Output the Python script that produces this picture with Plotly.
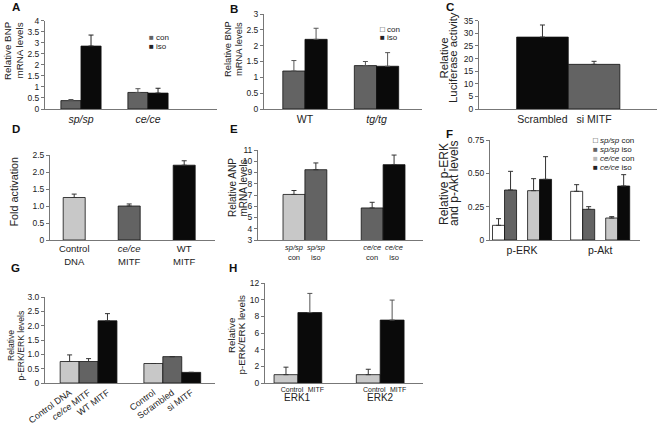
import plotly.graph_objects as go

W, H = 659, 424
def px(x): return x / W
def py(y): return 1 - y / H

# ---------------- data ----------------
A_groups = ["<i>sp/sp</i>", "<i>ce/ce</i>"]
A_con = [0.38, 0.75]; A_con_err = [0.05, 0.17]
A_iso = [2.85, 0.72]; A_iso_err = [0.50, 0.22]

B_groups = ["WT", "<i>tg/tg</i>"]
B_con = [1.20, 1.37]; B_con_err = [0.33, 0.13]
B_iso = [2.20, 1.35]; B_iso_err = [0.35, 0.43]

C_cats = ["Scrambled", "si MITF"]
C_vals = [28.5, 17.7]; C_err = [4.8, 1.2]

D_cats = ["Control<br>DNA", "<i>ce/ce</i><br>MITF", "WT<br>MITF"]
D_vals = [1.25, 1.00, 2.20]; D_err = [0.10, 0.06, 0.13]

E_con_labels = ["<i>sp/sp</i><br>con", "<i>ce/ce</i><br>con"]
E_iso_labels = ["<i>sp/sp</i><br>iso", "<i>ce/ce</i><br>iso"]
E_con = [7.05, 5.85]; E_con_err = [0.35, 0.50]
E_iso = [9.25, 9.70]; E_iso_err = [0.60, 0.85]

F_groups = ["p-ERK", "p-Akt"]
F_series = ["<i>sp/sp</i> con", "<i>sp/sp</i> iso", "<i>ce/ce</i> con", "<i>ce/ce</i> iso"]
F_vals = [[0.11, 0.365], [0.375, 0.23], [0.37, 0.165], [0.455, 0.405]]
F_err = [[0.05, 0.05], [0.14, 0.02], [0.09, 0.01], [0.17, 0.085]]

G_labels = [["Control DNA", "Control"], ["<i>ce/ce</i> MITF", "Scrambled"], ["WT MITF", "si MITF"]]
G_vals = [[0.75, 0.68], [0.75, 0.92], [2.17, 0.37]]
G_err = [[0.23, None], [0.10, None], [0.25, None]]

H_groups = ["ERK1", "ERK2"]
H_bar_labels = ["Control", "MITF"]
H_con = [1.0, 1.0]; H_con_err = [0.90, 0.65]
H_mitf = [8.45, 7.55]; H_mitf_err = [2.30, 2.40]

# ---------------- styling ----------------
FONT = "Liberation Sans, Arial, sans-serif"
LIGHT = "#c8c8c8"; MID = "#636363"; DARK = "#0a0a0a"; WHITE = "#ffffff"
AX = "#777777"; TXT = "#222222"

fig = go.Figure()

def add_bar(n, groups, y, err, color, offset, width, errcolor="#222222"):
    # bar centres derived from group index + offset within the group
    x = [g + offset + width / 2 for g in groups]
    vis = any(e is not None for e in err)
    fig.add_trace(go.Bar(
        x=x, y=y, width=width,
        marker=dict(color=color, line=dict(color="#111111", width=0.8)),
        error_y=dict(type="data", symmetric=False,
                     array=[e if e is not None else 0 for e in err],
                     arrayminus=[0] * len(err), color=errcolor, thickness=1, width=2.5, visible=vis),
        xaxis="x" if n == 1 else f"x{n}", yaxis="y" if n == 1 else f"y{n}",
        showlegend=False, hoverinfo="skip"))
    return x

# A
gA = list(range(len(A_groups)))
add_bar(1, gA, A_con, A_con_err, MID, -0.3, 0.3, "#555555")
add_bar(1, gA, A_iso, A_iso_err, DARK, 0.0, 0.3)
# B
gB = list(range(len(B_groups)))
add_bar(2, gB, B_con, B_con_err, MID, -0.31, 0.31, "#555555")
add_bar(2, gB, B_iso, B_iso_err, DARK, 0.0, 0.31, "#555555")
# C
gC = list(range(len(C_cats)))
add_bar(3, gC, C_vals, C_err, [DARK, MID], -0.5, 1.0, "#333333")
# D
gD = list(range(len(D_cats)))
add_bar(4, gD, D_vals, D_err, [LIGHT, MID, DARK], -0.2, 0.4, "#333333")
# E
gE = list(range(len(E_con)))
wE = 0.28
xe1 = add_bar(5, gE, E_con, E_con_err, [LIGHT, MID], -wE, wE, "#333333")
xe2 = add_bar(5, gE, E_iso, E_iso_err, [MID, DARK], 0.0, wE, "#333333")
E_tickvals = xe1 + xe2
E_ticktext = E_con_labels + E_iso_labels
# F
gF = list(range(len(F_groups)))
wF = 0.154
F_offsets = [-0.378, -0.224, 0.071, 0.224]
F_colors = [WHITE, MID, LIGHT, DARK]
for vals, err, off, col in zip(F_vals, F_err, F_offsets, F_colors):
    add_bar(6, gF, vals, err, col, off, wF, "#333333")
# G
gG = list(range(2))
wG = 0.226
G_offsets = [-1.5 * wG, -0.5 * wG, 0.5 * wG]
G_colors = [LIGHT, MID, DARK]
G_tickvals, G_ticktext = [], []
for vals, err, off, col, labs in zip(G_vals, G_err, G_offsets, G_colors, G_labels):
    xs = add_bar(7, gG, vals, err, col, off, wG, "#333333")
    G_tickvals += xs
    G_ticktext += labs
# H
gH = list(range(len(H_groups)))
wH = 0.29
xh1 = add_bar(8, gH, H_con, H_con_err, LIGHT, -wH, wH, "#333333")
xh2 = add_bar(8, gH, H_mitf, H_mitf_err, DARK, 0.0, wH, "#555555")
H_tickvals = xh1 + xh2
H_ticktext = [H_bar_labels[0]] * len(gH) + [H_bar_labels[1]] * len(gH)

# ---------------- axes ----------------
panels = {
    1: dict(xd=(45, 217), yd=(20.7, 109), xr=(-0.537, 2.03), yr=(0, 4),
            yt=[0, 0.5, 1, 1.5, 2, 2.5, 3, 3.5, 4], ytt=None,
            xt=gA, xtt=A_groups, xfs=10.5, xangle=0, shift=0),
    2: dict(xd=(264, 422), yd=(14, 109), xr=(-0.573, 1.636), yr=(0, 3),
            yt=[0, 0.5, 1, 1.5, 2, 2.5, 3], ytt=None,
            xt=gB, xtt=B_groups, xfs=10.5, xangle=0, shift=0),
    3: dict(xd=(479, 657), yd=(20.7, 109), xr=(-1.23, 2.22), yr=(0, 35),
            yt=[0, 5, 10, 15, 20, 25, 30, 35], ytt=None,
            xt=gC, xtt=C_cats, xfs=10.5, xangle=0, shift=0),
    4: dict(xd=(50, 215), yd=(155, 240), xr=(-0.44, 2.56), yr=(0, 2.5),
            yt=[0, 0.5, 1, 1.5, 2, 2.5], ytt=["0", "0.5", "1.0", "1.5", "2.0", "2.5"],
            xt=gD, xtt=D_cats, xfs=9.5, xangle=0, shift=0),
    5: dict(xd=(258, 423), yd=(150, 240), xr=(-0.6, 1.51), yr=(3, 11),
            yt=list(range(3, 12)), ytt=None,
            xt=E_tickvals, xtt=E_ticktext, xfs=7.5, xangle=0, shift=0),
    6: dict(xd=(490, 640), yd=(140, 240), xr=(-0.41, 1.51), yr=(0, 0.75),
            yt=[0, 0.25, 0.5, 0.75], ytt=["0", "0.25", "0.50", "0.75"],
            xt=gF, xtt=F_groups, xfs=10.5, xangle=0, shift=0),
    7: dict(xd=(45, 215), yd=(297, 383), xr=(-0.52, 1.51), yr=(0, 3),
            yt=[0, 0.5, 1, 1.5, 2, 2.5, 3], ytt=["0", "0.5", "1.0", "1.5", "2.0", "2.5", "3.0"],
            xt=G_tickvals, xtt=G_ticktext, xfs=9, xangle=-36, shift=0),
    8: dict(xd=(265, 423), yd=(283, 383), xr=(-0.40, 1.52), yr=(0, 12),
            yt=list(range(0, 13, 2)), ytt=None,
            xt=H_tickvals, xtt=H_ticktext, xfs=7, xangle=0, shift=6),
}

layout_axes = {}
for n, p in panels.items():
    xs = "xaxis" if n == 1 else f"xaxis{n}"
    ys = "yaxis" if n == 1 else f"yaxis{n}"
    xa = "x" if n == 1 else f"x{n}"
    ya = "y" if n == 1 else f"y{n}"
    layout_axes[xs] = dict(
        domain=[px(p["xd"][0]), px(p["xd"][1])], range=list(p["xr"]), anchor=ya,
        showgrid=False, zeroline=False, showline=True, linecolor=AX, linewidth=1,
        ticks="", tickmode="array", tickvals=p["xt"], ticktext=p["xtt"],
        tickangle=p["xangle"], tickfont=dict(size=p["xfs"], color=TXT, family=FONT),
        ticklabelshift=p["shift"], automargin=False, fixedrange=True)
    yd = dict(
        domain=[py(p["yd"][1]), py(p["yd"][0])], range=list(p["yr"]), anchor=xa,
        showgrid=False, zeroline=False, showline=True, linecolor=AX, linewidth=1,
        ticks="outside", ticklen=3, tickcolor=AX, tickmode="array", tickvals=p["yt"],
        tickfont=dict(size=8.5, color=TXT, family=FONT), automargin=False, fixedrange=True)
    if p["ytt"] is not None:
        yd["ticktext"] = p["ytt"]
    layout_axes[ys] = yd

ann = []
def text(x, y, s, size, bold=False, angle=0, xanchor="center", yanchor="middle",
         color=TXT, family=FONT):
    ann.append(dict(x=px(x), y=py(y), xref="paper", yref="paper", text=f"<b>{s}</b>" if bold else s,
                    showarrow=False, textangle=angle, xanchor=xanchor, yanchor=yanchor,
                    font=dict(size=size, family=family, color=color)))

# panel letters
for lab, x, y in [("A", 16, 7), ("B", 233.5, 9), ("C", 450, 7), ("D", 15.5, 129),
                  ("E", 234, 129), ("F", 449.5, 134), ("G", 15, 268), ("H", 233, 268)]:
    text(x, y, lab, 11.5, bold=True, color="#111111")

# y-axis titles (one annotation per line)
for lines, xs, yc, fs in [
    (["Relative BNP", "mRNA levels"], [8, 19.5], 51, 9.8),
    (["Relative BNP", "mRNA levels"], [227, 238], 49, 9.4),
    (["Relative", "Luciferase activity"], [443.5, 453], 58, 11.4),
    (["Fold activation"], [13.5], 192, 10.8),
    (["Relative ANP", "mRNA levels"], [232, 242.5], 188, 10),
    (["Relative p-ERK", "and p-Akt levels"], [444, 454], 184, 12),
    (["Relative", "p-ERK/ERK levels"], [11, 20.5], 346, 8.6),
    (["Relative", "p-ERK/ERK levels"], [231, 240.5], 335, 9.8),
]:
    for s, x in zip(lines, xs):
        text(x, yc, s, fs, angle=-90)

# H group labels
for g, lab in zip(gH, H_groups):
    ann.append(dict(x=g, y=py(405), xref="x8", yref="paper", text=lab, showarrow=False,
                    font=dict(size=10, family=FONT, color=TXT)))

# legends as text keys
LEG = 8
text(146.5, 37, "<span style='color:#636363'>■</span> con", LEG, xanchor="left")
text(146.5, 46, "■ iso", LEG, xanchor="left")
text(378, 29, "□ con", LEG, xanchor="left")
text(378, 37, "■ iso", LEG, xanchor="left")
for i, (s, sym) in enumerate(zip(F_series, ["□", "<span style='color:#636363'>■</span>",
                                             "<span style='color:#bbbbbb'>■</span>", "■"])):
    text(591, 141 + i * 8.8, f"{sym} {s}", LEG, xanchor="left")

fig.update_layout(
    width=W, height=H, margin=dict(l=0, r=0, t=0, b=0, autoexpand=False),
    paper_bgcolor="white", plot_bgcolor="white", barmode="overlay",
    font=dict(family=FONT, color=TXT), showlegend=False,
    annotations=ann, **layout_axes)

fig.write_html("out.html", config={"displayModeBar": False},
               post_script="document.body.style.margin='0px';")
